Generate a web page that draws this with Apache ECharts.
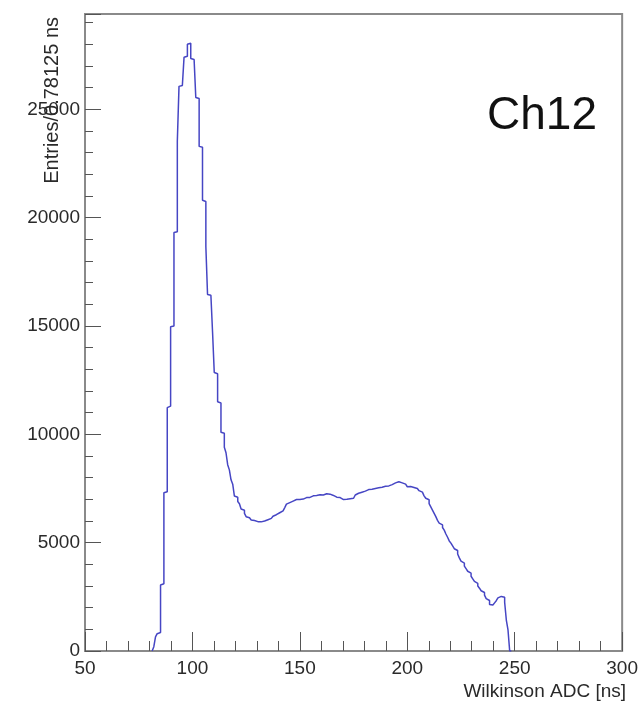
<!DOCTYPE html>
<html>
<head>
<meta charset="utf-8">
<title>Ch12 Wilkinson ADC</title>
<script src="https://cdn.jsdelivr.net/npm/echarts@6/dist/echarts.min.js"></script>
<style>
  html, body { margin: 0; padding: 0; background: #ffffff; }
  #chart { width: 641px; height: 712px; }
</style>
</head>
<body>
<div id="chart"></div>
<script>
// Histogram binning (ns)
const BIN_WIDTH = 0.78125;
const FIRST_BIN_LOW = 81.25;

// Entries per bin, starting at FIRST_BIN_LOW
const counts = [
  0, 200, 650, 800, 850, 3050, 3100, 7300, 7350, 11230,
  11300, 14970, 15000, 19320, 19350, 23520, 26060, 26100, 26080, 27400,
  27450, 28000, 28050, 27350, 27300, 27280, 25550, 25500, 23290, 23250,
  20800, 20750, 18670, 16450, 16420, 16400, 14700, 12850, 12800, 11500,
  11450, 10100, 10050, 9400, 9150, 8600, 8360, 7900, 7700, 7150,
  7100, 6900, 6800, 6550, 6500, 6350, 6200, 6150, 6100, 6050,
  6020, 5990, 5970, 5950, 5960, 5980, 6000, 6030, 6060, 6100,
  6120, 6180, 6220, 6290, 6330, 6380, 6420, 6470, 6530, 6620,
  6780, 6850, 6880, 6920, 6960, 6990, 6950, 6990, 7030, 7010,
  7060, 7080, 7100, 7090, 7140, 7160, 7200, 7180, 7220, 7210,
  7240, 7200, 7230, 7260, 7210, 7240, 7200, 7180, 7120, 7100,
  7060, 7080, 7020, 6990, 6960, 7000, 6970, 7030, 7070, 7050,
  7120, 7200, 7280, 7250, 7330, 7300, 7380, 7400, 7450, 7420,
  7470, 7450, 7500, 7470, 7530, 7510, 7560, 7540, 7600, 7570,
  7620, 7600, 7680, 7700, 7760, 7740, 7810, 7790, 7760, 7800,
  7700, 7640, 7580, 7590, 7560, 7550, 7530, 7500, 7450, 7400,
  7330, 7280, 7160, 7050, 6980, 6800, 6650, 6500, 6350, 6200,
  6030, 5900, 5820, 5700, 5580, 5400, 5250, 5080, 4980, 4850,
  4720, 4640, 4480, 4300, 4150, 4060, 3920, 3800, 3680, 3590,
  3450, 3330, 3210, 3120, 3000, 2900, 2780, 2700, 2580, 2420,
  2330, 2150, 2120, 2150, 2220, 2320, 2450, 2520, 2500, 2480,
  2250, 1430, 970, 0
];

// Axis ranges
const X_MIN = 50, X_MAX = 300, X_STEP = 50;
const Y_MIN = 0, Y_MAX = 29400, Y_STEP = 5000, Y_MINOR_STEP = 1000;

// Texts
const X_TITLE = 'Wilkinson ADC [ns]';
const Y_TITLE = 'Entries/0.78125 ns';
const CHANNEL_LABEL = 'Ch12';

// Step outline: each point is a bin's low edge, closed at the last upper edge
const points = counts.map((c, i) => [FIRST_BIN_LOW + i * BIN_WIDTH, c]);
points.push([FIRST_BIN_LOW + counts.length * BIN_WIDTH, 0]);

const FONT = 'Liberation Sans, Arial, Helvetica, sans-serif';
const FRAME = '#8a8a8a';
const TICK = '#555555';
const TEXT = '#2a2a2a';

const chart = echarts.init(document.getElementById('chart'), null, { renderer: 'canvas' });

chart.setOption({
  animation: false,
  backgroundColor: '#ffffff',
  grid: {
    left: 85, right: 14, top: 14, bottom: 61,
    show: true, borderColor: FRAME, borderWidth: 2, backgroundColor: 'transparent'
  },
  xAxis: {
    type: 'value', min: X_MIN, max: X_MAX, interval: X_STEP,
    axisLine: { show: true, onZero: false, lineStyle: { color: FRAME, width: 2 } },
    axisTick: { show: true, inside: true, length: 19, lineStyle: { color: TICK, width: 1 } },
    minorTick: { show: true, splitNumber: 5, length: 10, lineStyle: { color: TICK, width: 1 } },
    splitLine: { show: false },
    minorSplitLine: { show: false },
    axisLabel: { margin: 8, fontSize: 19, color: TEXT, fontFamily: FONT }
  },
  yAxis: [
    {
      type: 'value', min: Y_MIN, max: Y_MAX, interval: Y_STEP, position: 'left',
      axisLine: { show: true, onZero: false, lineStyle: { color: FRAME, width: 2 } },
      axisTick: { show: true, inside: true, length: 16, lineStyle: { color: TICK, width: 1 } },
      splitLine: { show: false },
      axisLabel: {
        margin: 5, fontSize: 19, color: TEXT, fontFamily: FONT,
        formatter: v => (v % Y_STEP === 0 ? String(v) : '')
      }
    },
    {
      type: 'value', min: Y_MIN, max: Y_MAX, interval: Y_MINOR_STEP, position: 'left', offset: 0,
      axisLine: { show: false },
      axisTick: { show: true, inside: true, length: 8, lineStyle: { color: TICK, width: 1 } },
      splitLine: { show: false },
      axisLabel: { show: false }
    }
  ],
  series: [{
    type: 'line',
    xAxisIndex: 0,
    yAxisIndex: 0,
    data: points,
    step: 'end',
    symbol: 'none',
    clip: true,
    lineStyle: { color: '#4646c4', width: 1.5 }
  }],
  graphic: [
    {
      type: 'text', x: 626, y: 692,
      style: { text: X_TITLE, fill: TEXT, font: '19px ' + FONT, align: 'right', verticalAlign: 'middle' }
    },
    {
      type: 'text', x: 52, y: 17, rotation: Math.PI / 2,
      style: { text: Y_TITLE, fill: TEXT, font: '20px ' + FONT, align: 'right', verticalAlign: 'middle' }
    },
    {
      type: 'text', x: 487, y: 116,
      style: { text: CHANNEL_LABEL, fill: '#111111', font: '46px ' + FONT, align: 'left', verticalAlign: 'middle' }
    }
  ]
});
</script>
</body>
</html>
